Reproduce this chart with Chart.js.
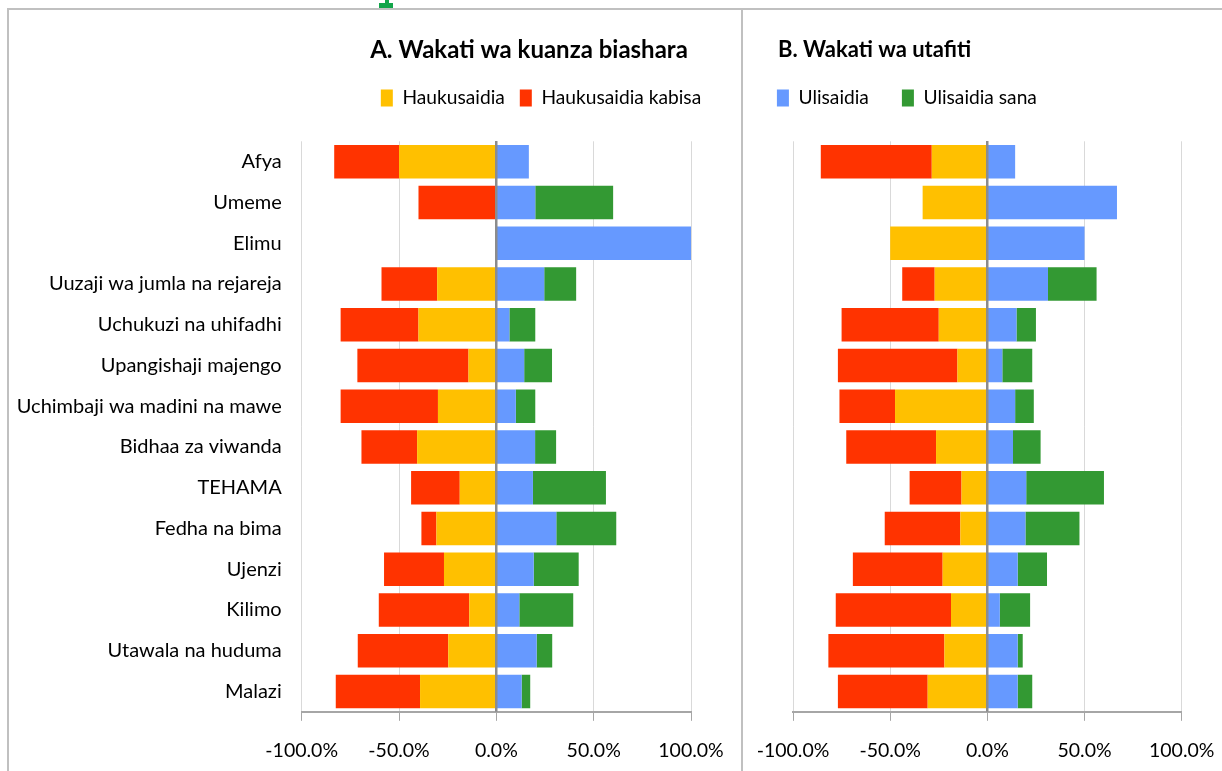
<!DOCTYPE html>
<html>
<head>
<meta charset="utf-8">
<script src="https://cdn.jsdelivr.net/npm/chart.js@4.4.1/dist/chart.umd.min.js"></script>
<style>
  html, body { margin:0; padding:0; background:#fff; width:1222px; height:771px; overflow:hidden; }
  #frame { position:absolute; left:7px; top:8px; width:1400px; height:900px; border:2px solid #c0c0c0; box-sizing:border-box; }
  #divider { position:absolute; left:741px; top:8px; width:2px; height:763px; background:#c0c0c0; }
  .handle { position:absolute; background:#12a54a; }
  canvas { position:absolute; }
  #cA { left:9px; top:10px; }
  #cB { left:743px; top:10px; }
</style>
</head>
<body>
<div id="frame"></div>
<div id="divider"></div>
<div class="handle" style="left:385px;top:0;width:4px;height:4px;"></div>
<div class="handle" style="left:379px;top:3px;width:14px;height:5px;"></div>
<canvas id="cA" width="732" height="770"></canvas>
<canvas id="cB" width="479" height="770"></canvas>
<script>
// ---- Data ----
const categories = ['Afya','Umeme','Elimu','Uuzaji wa jumla na rejareja','Uchukuzi na uhifadhi','Upangishaji majengo','Uchimbaji wa madini na mawe','Bidhaa za viwanda','TEHAMA','Fedha na bima','Ujenzi','Kilimo','Utawala na huduma','Malazi'];
const seriesNames = ['Haukusaidia','Haukusaidia kabisa','Ulisaidia','Ulisaidia sana'];
const tickValues = [-100, -50, 0, 50, 100];
const titleA = 'A. Wakati wa kuanza biashara';
const titleB = 'B. Wakati wa utafiti';

// A. Wakati wa kuanza biashara (percent; negatives plotted left of zero)
const haukusaidiaA = [-50, 0, 0, -30.4, -40, -14.3, -30, -40.7, -18.8, -30.8, -26.9, -13.9, -24.7, -39.2];
const kabisaA      = [-33.3, -40, 0, -28.6, -40, -57.1, -50, -28.6, -25, -7.7, -30.8, -46.5, -46.5, -43.3];
const ulisaidiaA   = [16.7, 20, 100, 24.6, 6.7, 14.3, 10, 19.9, 18.8, 30.8, 19.2, 11.8, 20.7, 13];
const sanaA        = [0, 40, 0, 16.4, 13.3, 14.3, 10, 10.8, 37.5, 30.8, 23.1, 27.7, 8, 4.4];

// B. Wakati wa utafiti
const haukusaidiaB = [-28.6, -33.3, -50, -27.1, -25, -15.4, -47.5, -26.4, -13.3, -13.9, -23, -18.7, -22.1, -30.7];
const kabisaB      = [-57.1, 0, 0, -16.7, -50, -61.5, -28.6, -46.2, -26.7, -38.9, -46.2, -59.3, -59.7, -46.2];
const ulisaidiaB   = [14.3, 66.7, 50, 31.2, 15, 7.7, 14.3, 13.2, 20, 19.6, 15.6, 6.4, 15.6, 15.6];
const sanaB        = [0, 0, 0, 25, 10, 15.4, 9.6, 14.2, 40, 27.8, 15.1, 15.6, 2.6, 7.5];

// ---- Styles ----
const colors = ['#FFC000', '#FF3300', '#6699FF', '#339933'];
const FONT = "Lato, 'DejaVu Sans Condensed', sans-serif";

const placeHeader = {
  id: 'placeHeader',
  afterLayout(chart, args, opts) {
    const t = chart.titleBlock, l = chart.legend;
    if (t && opts.titleX != null) { const d = opts.titleX - (t.left + t.right) / 2; t.left += d; t.right += d; }
    if (l && opts.legendX != null) { const d = opts.legendX - (l.left + l.right) / 2; l.left += d; l.right += d; }
    if (l && opts.legendTop != null) { const d = opts.legendTop - l.top; l.top += d; l.bottom += d; }
  }
};

function makeDatasets(a, b, c, d) {
  return [a, b, c, d].map((arr, i) => ({
    label: seriesNames[i],
    data: arr,
    backgroundColor: colors[i],
    borderWidth: 0,
    xAxisID: 'x',
    yAxisID: 'y',
    categoryPercentage: 0.82,
    barPercentage: 1
  }));
}

function makeChart(id, title, datasets, cfg) {
  return new Chart(document.getElementById(id), {
    type: 'bar',
    data: { labels: categories, datasets },
    plugins: [placeHeader],
    options: {
      indexAxis: 'y',
      responsive: false,
      maintainAspectRatio: false,
      animation: false,
      devicePixelRatio: 1,
      layout: { padding: cfg.padding },
      plugins: {
        tooltip: { enabled: false },
        title: {
          display: true, text: title, color: '#000',
          font: { family: FONT, size: cfg.titleSize, weight: 'bold' },
          padding: { top: cfg.titlePadTop, bottom: 5 }
        },
        legend: {
          display: true,
          labels: {
            color: '#000',
            font: { family: FONT, size: 19.2 },
            boxWidth: 12, boxHeight: 17,
            padding: cfg.legendPadding,
            filter: (item) => cfg.legendItems.includes(item.datasetIndex)
          }
        },
        placeHeader: { titleX: cfg.titleX, legendX: cfg.legendX, legendTop: cfg.legendTop }
      },
      scales: {
        x: {
          type: 'linear', position: 'bottom', stacked: true,
          min: -100, max: 100,
          afterBuildTicks: (s) => { s.ticks = tickValues.map(v => ({ value: v })); },
          ticks: {
            callback: (v) => Number(v).toFixed(1) + '%',
            color: '#000', font: { family: FONT, size: 19.5, lineHeight: 2.83 },
            padding: 2, maxRotation: 0, autoSkip: false
          },
          grid: { color: '#d9d9d9', lineWidth: 1, tickLength: 9, tickColor: '#a6a6a6' },
          border: { display: true, color: '#a6a6a6', width: 2 }
        },
        x2: {
          type: 'linear', position: 'top',
          min: -100, max: 100,
          afterBuildTicks: (s) => { s.ticks = tickValues.map(v => ({ value: v })); },
          ticks: { display: false },
          border: { display: false },
          grid: {
            z: 1, drawTicks: true, tickLength: cfg.topGap, tickColor: 'rgba(0,0,0,0)',
            color: (c) => (c.tick && c.tick.value === 0) ? '#8c8c8c' : 'rgba(0,0,0,0)',
            lineWidth: 2.5
          }
        },
        y: {
          type: 'category', stacked: true, display: cfg.showY,
          grid: { display: false, drawTicks: false }, border: { display: false },
          ticks: { color: '#000', font: { family: FONT, size: 20 }, padding: 20, autoSkip: false },
          afterFit: (s) => { if (cfg.yWidth) s.width = cfg.yWidth; }
        }
      }
    }
  });
}

makeChart('cA', titleA, makeDatasets(haukusaidiaA, kabisaA, ulisaidiaA, sanaA), {
  padding: { left: 0, right: 50, top: 0, bottom: 0 },
  titleSize: 24, titlePadTop: 25.6,
  legendPadding: 15, legendItems: [0, 1],
  titleX: 520, legendX: 532, legendTop: 63.4,
  topGap: 27.7, showY: true, yWidth: 292.7
});

makeChart('cB', titleB, makeDatasets(haukusaidiaB, kabisaB, ulisaidiaB, sanaB), {
  padding: { left: 50, right: 40.3, top: 0, bottom: 0 },
  titleSize: 22, titlePadTop: 26.8,
  legendPadding: 33, legendItems: [2, 3],
  titleX: 131.5, legendX: 163.9, legendTop: 45.4,
  topGap: 10.9, showY: false, yWidth: null
});
</script>
</body>
</html>
